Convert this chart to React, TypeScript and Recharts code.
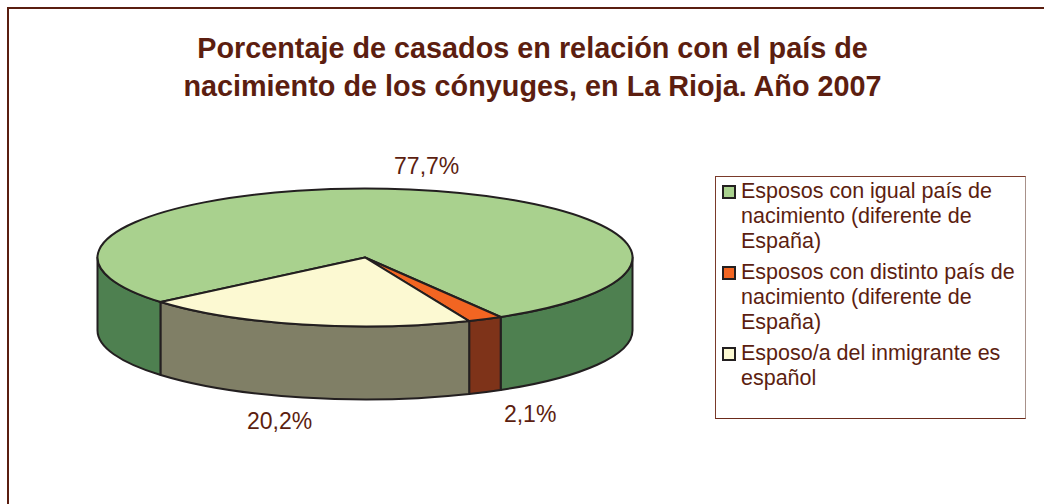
import { PieChart, Pie, Legend } from 'recharts';

const TITLE_LINES = [
  'Porcentaje de casados en relación con el país de',
  'nacimiento de los cónyuges, en La Rioja. Año 2007',
];
const CATEGORIES = [
  'Esposos con igual país de nacimiento (diferente de España)',
  'Esposos con distinto país de nacimiento (diferente de España)',
  'Esposo/a del inmigrante es español',
];
const VALUES = [77.7, 2.1, 20.2];

const TOP_COLORS = ['#A9D18E', '#F26522', '#FCF9D2'];
const SIDE_COLORS = ['#4E8050', '#7E3319', '#807F66'];
const TEXT = '#5C1E10';
const OUTLINE = '#231F20';

const data = CATEGORIES.map((name, i) => ({ name, value: VALUES[i] }));

// fake 3d: squash the circle into an ellipse and add a wall below the front half
const TILT = 69 / 267.5;
const DEPTH = 73;
const RAD = Math.PI / 180;

const pt = (cx: number, cy: number, rx: number, ry: number, a: number) =>
  `${cx + rx * Math.cos(a * RAD)},${cy - ry * Math.sin(a * RAD)}`;

function frontSegments(lo: number, hi: number) {
  const segs: [number, number][] = [];
  for (let k = Math.floor(lo / 360) - 1; k <= Math.ceil(hi / 360) + 1; k++) {
    const s = Math.max(lo, 180 + 360 * k);
    const e = Math.min(hi, 360 + 360 * k);
    if (e > s) segs.push([s, e]);
  }
  return segs;
}

const renderSlice = (props: any) => {
  const { cx, cy, outerRadius, startAngle, endAngle, midAngle, index, value } = props;
  const rx = outerRadius;
  const ry = outerRadius * TILT;
  const lo = Math.min(startAngle, endAngle);
  const hi = Math.max(startAngle, endAngle);
  const large = hi - lo > 180 ? 1 : 0;

  const walls = frontSegments(lo, hi).map(([s, e], j) => {
    const d =
      `M${pt(cx, cy, rx, ry, s)} A${rx},${ry} 0 0 0 ${pt(cx, cy, rx, ry, e)} ` +
      `L${pt(cx, cy + DEPTH, rx, ry, e)} A${rx},${ry} 0 0 1 ${pt(cx, cy + DEPTH, rx, ry, s)} Z`;
    return (
      <path key={j} d={d} fill={SIDE_COLORS[index]} stroke={OUTLINE} strokeWidth={2} strokeLinejoin="round" />
    );
  });
  const top =
    `M${cx},${cy} L${pt(cx, cy, rx, ry, hi)} A${rx},${ry} 0 ${large} 1 ${pt(cx, cy, rx, ry, lo)} Z`;

  const s = Math.sin(midAngle * RAD);
  const lx = cx + (rx + 100) * Math.cos(midAngle * RAD);
  const ly = cy - (ry + 24) * s + (s < 0 ? DEPTH : 0);

  return (
    <g>
      {walls}
      <path d={top} fill={TOP_COLORS[index]} stroke={OUTLINE} strokeWidth={2} strokeLinejoin="round" />
      <text
        x={lx}
        y={ly}
        textAnchor="middle"
        dominantBaseline="central"
        fill={TEXT}
        fontSize={23}
        fontFamily='"Liberation Sans", Arial, sans-serif'
      >
        {value.toFixed(1).replace('.', ',')}%
      </text>
    </g>
  );
};

const renderLegend = () => (
  <div
    style={{
      boxSizing: 'border-box',
      width: 311,
      height: 243,
      borderStyle: 'solid',
      borderWidth: 1,
      borderColor: '#7A3A2A #A8918A #6B2A1A #7A3A2A',
      padding: '2px 0 0 6px',
      background: '#fff',
    }}
  >
    {CATEGORIES.map((c, i) => (
      <div key={c} style={{ display: 'flex', alignItems: 'flex-start', marginBottom: 6 }}>
        <span
          style={{
            flex: 'none',
            boxSizing: 'border-box',
            width: 14,
            height: 14,
            marginTop: 6,
            marginRight: 5,
            border: `2px solid ${OUTLINE}`,
            background: TOP_COLORS[i],
          }}
        />
        <span style={{ width: 279, fontSize: 21.5, lineHeight: '25px', color: TEXT }}>{c}</span>
      </div>
    ))}
  </div>
);

export default function App() {
  return (
    <div
      style={{
        position: 'fixed',
        left: 0,
        top: 0,
        width: 1044,
        height: 504,
        overflow: 'hidden',
        background: '#fff',
        fontFamily: '"Liberation Sans", Arial, sans-serif',
      }}
    >
      <div
        style={{
          position: 'absolute',
          left: 7,
          top: 7,
          width: 1200,
          height: 800,
          boxSizing: 'border-box',
          border: '2px solid #5A1E10',
        }}
      />
      <div style={{ position: 'absolute', left: 8, top: 8, width: 1036, height: 496 }}>
        <div
          style={{
            position: 'absolute',
            left: 0,
            top: 21,
            width: 1049,
            textAlign: 'center',
            fontSize: 28.8,
            fontWeight: 'bold',
            lineHeight: '38px',
            color: TEXT,
          }}
        >
          {TITLE_LINES.map((l) => (
            <div key={l}>{l}</div>
          ))}
        </div>
        <div style={{ position: 'absolute', left: 0, top: 0 }}>
          <PieChart width={1028} height={488} margin={{ top: 0, right: 0, bottom: 0, left: 0 }}>
            <Pie
              data={data}
              dataKey="value"
              nameKey="name"
              cx={357}
              cy={249.5}
              outerRadius={267.5}
              startAngle={220.2}
              endAngle={-139.8}
              fill="transparent"
              stroke="none"
              label={renderSlice}
              labelLine={false}
              isAnimationActive={false}
            />
            <Legend
              layout="vertical"
              align="right"
              verticalAlign="middle"
              content={renderLegend}
              wrapperStyle={{ left: 707, top: 167.7, width: 311, height: 243 }}
            />
          </PieChart>
        </div>
      </div>
    </div>
  );
}
